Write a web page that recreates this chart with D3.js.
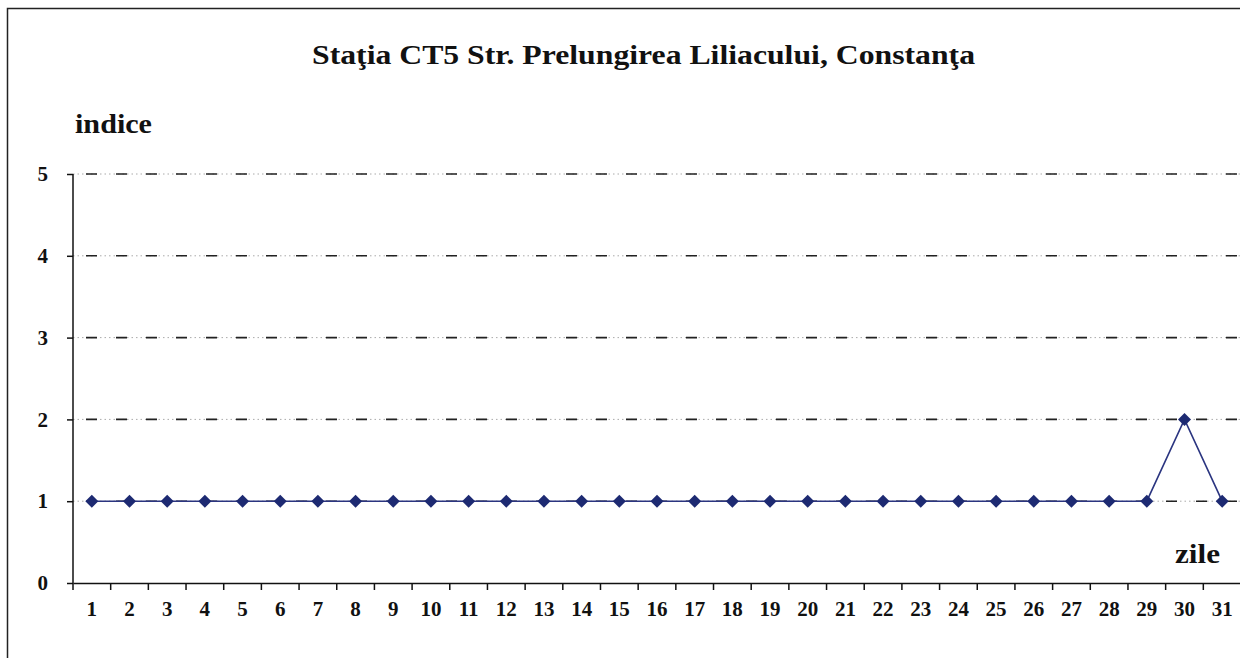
<!DOCTYPE html>
<html>
<head>
<meta charset="utf-8">
<script src="https://cdn.jsdelivr.net/npm/d3@7"></script>
<style>
  body { margin: 0; background: #fff; }
  text { font-family: "Liberation Serif", "Times New Roman", serif; font-weight: bold; fill: #111; }
</style>
</head>
<body>
<div id="vis1"></div>
<script>
const FRAME_WIDTH = 1240;
const FRAME_HEIGHT = 658;
const MARGINS = {left: 73, right: -1, top: 174, bottom: 75};

// data
const days = d3.range(1, 32).map(String);
const values = [1,1,1,1,1,1,1,1,1,1,1,1,1,1,1,1,1,1,1,1,1,1,1,1,1,1,1,1,1,2,1];
const yTicks = [0, 1, 2, 3, 4, 5];

const TITLE = 'Staţia CT5 Str. Prelungirea Liliacului,  Constanţa';

const VIS_WIDTH = FRAME_WIDTH - MARGINS.left - MARGINS.right;
const VIS_HEIGHT = FRAME_HEIGHT - MARGINS.top - MARGINS.bottom;

const FRAME = d3.select('#vis1')
  .append('svg')
    .attr('width', FRAME_WIDTH)
    .attr('height', FRAME_HEIGHT);

// outer frame
FRAME.append('rect')
  .attr('x', 7.5).attr('y', 8.5)
  .attr('width', FRAME_WIDTH).attr('height', FRAME_HEIGHT)
  .attr('fill', 'none').attr('stroke', '#222').attr('stroke-width', 1.5);

const X_SCALE = d3.scaleBand().domain(days).range([0, VIS_WIDTH]);
const Y_SCALE = d3.scaleLinear().domain([0, 5]).range([VIS_HEIGHT, 0]);

const G = FRAME.append('g')
  .attr('transform', 'translate(' + MARGINS.left + ',' + MARGINS.top + ')');

// gridlines: dash + dots
const grid = G.append('g');
grid.selectAll('.gdot')
  .data(yTicks.filter(d => d > 0))
  .enter().append('line')
    .attr('x1', 0).attr('x2', VIS_WIDTH)
    .attr('y1', d => Y_SCALE(d)).attr('y2', d => Y_SCALE(d))
    .attr('stroke', '#aaa').attr('stroke-width', 1)
    .attr('stroke-dasharray', '1.5,3');
grid.selectAll('.gdash')
  .data(yTicks.filter(d => d > 0))
  .enter().append('line')
    .attr('x1', 0).attr('x2', VIS_WIDTH)
    .attr('y1', d => Y_SCALE(d)).attr('y2', d => Y_SCALE(d))
    .attr('stroke', '#222').attr('stroke-width', 1.6)
    .attr('stroke-dasharray', '11,19')
    .attr('stroke-dashoffset', -13);

// y axis
const yAxis = G.append('g')
  .call(d3.axisLeft(Y_SCALE).tickValues(yTicks).tickSize(6).tickPadding(19).tickFormat(d3.format('d')));
yAxis.selectAll('text').attr('font-size', '21px');
yAxis.selectAll('line, path').attr('stroke', '#111').attr('stroke-width', 1.5);
yAxis.select('.domain').attr('d', 'M0,' + VIS_HEIGHT + 'V0');

// x axis with ticks at band edges
const xAxis = G.append('g')
  .attr('transform', 'translate(0,' + VIS_HEIGHT + ')')
  .call(d3.axisBottom(X_SCALE).tickSize(0).tickPadding(18));
xAxis.selectAll('text').attr('font-size', '21px');
xAxis.select('.domain').attr('stroke', '#111').attr('stroke-width', 1.5);
xAxis.selectAll('.edge')
  .data(days)
  .enter().append('line')
    .attr('x1', d => X_SCALE(d)).attr('x2', d => X_SCALE(d))
    .attr('y1', 0).attr('y2', 7)
    .attr('stroke', '#111').attr('stroke-width', 1.5);

// series
const cx = (d, i) => X_SCALE(days[i]) + X_SCALE.bandwidth() / 2;
G.append('path')
  .datum(values)
  .attr('d', d3.line().x(cx).y(d => Y_SCALE(d)))
  .attr('fill', 'none').attr('stroke', '#2b3580').attr('stroke-width', 1.6);

G.selectAll('.pt')
  .data(values)
  .enter().append('path')
    .attr('d', 'M0,-6.5L6.5,0L0,6.5L-6.5,0Z')
    .attr('transform', (d, i) => 'translate(' + cx(d, i) + ',' + Y_SCALE(d) + ')')
    .attr('fill', '#1d2a72');

// texts
FRAME.append('text')
  .attr('x', 312).attr('y', 64)
  .attr('font-size', '28px')
  .attr('textLength', 663).attr('lengthAdjust', 'spacingAndGlyphs')
  .text(TITLE);

FRAME.append('text')
  .attr('x', 75).attr('y', 133)
  .attr('font-size', '28px')
  .attr('textLength', 77).attr('lengthAdjust', 'spacingAndGlyphs')
  .text('indice');

FRAME.append('text')
  .attr('x', 1175).attr('y', 563)
  .attr('font-size', '28px')
  .attr('textLength', 45).attr('lengthAdjust', 'spacingAndGlyphs')
  .text('zile');
</script>
</body>
</html>
